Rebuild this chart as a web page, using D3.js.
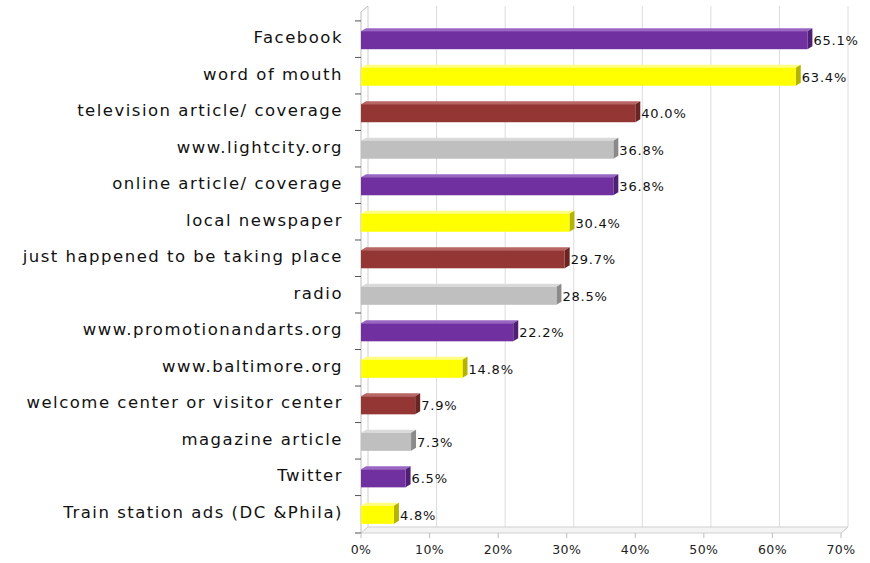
<!DOCTYPE html>
<html><head><meta charset="utf-8">
<script src="https://cdn.jsdelivr.net/npm/d3@7"></script>
<style>body{margin:0;background:#fff}svg{display:block}</style>
</head><body>
<script>
const categories = ["Facebook","word of mouth","television article/ coverage","www.lightcity.org","online article/ coverage","local newspaper","just happened to be taking place","radio","www.promotionandarts.org","www.baltimore.org","welcome center or visitor center","magazine article","Twitter","Train station ads (DC &Phila)"];
const values = [65.1,63.4,40.0,36.8,36.8,30.4,29.7,28.5,22.2,14.8,7.9,7.3,6.5,4.8];
const colors = ["#7030A0","#FFFF00","#943634","#BFBFBF"];
const sideColors = ["#4e1f73","#b3b300","#6a2422","#8a8a8a"];
const topColors = ["#9a66c4","#ffff80","#b86664","#dadada"];
const xTicks = [0,10,20,30,40,50,60,70];

const W=870,H=563;
const svg=d3.select("body").append("svg").attr("width",W).attr("height",H);
const x0=361, x1=841, yTop=20, yBot=533;
const dx=7, dy=-6; // back wall offset
const x=d3.scaleLinear().domain([0,70]).range([x0,x1]);
const y=d3.scaleBand().domain(categories).range([yTop,yBot]).paddingInner(0.45).paddingOuter(0.25);

const g=svg.append("g");
g.selectAll("line.grid").data(xTicks).join("line")
 .attr("x1",d=>x(d)+dx).attr("x2",d=>x(d)+dx)
 .attr("y1",yTop-8+dy).attr("y2",yBot+dy)
 .attr("stroke","#dcdcdc").attr("stroke-width",1);
svg.append("path").attr("d",`M${x0},${yBot}L${x1},${yBot}L${x1+dx},${yBot+dy}L${x0+dx},${yBot+dy}Z`)
 .attr("fill","#f4f4f4").attr("stroke","#d0d0d0");
g.selectAll("line.fl").data(xTicks).join("line")
 .attr("x1",d=>x(d)).attr("x2",d=>x(d)+dx).attr("y1",yBot).attr("y2",yBot+dy)
 .attr("stroke","#d0d0d0");
svg.append("line").attr("x1",x0).attr("x2",x0).attr("y1",yTop-8).attr("y2",yBot).attr("stroke","#bdbdbd");
svg.append("line").attr("x1",x0+dx).attr("x2",x0+dx).attr("y1",yTop-8+dy).attr("y2",yBot+dy).attr("stroke","#e0e0e0");
svg.append("line").attr("x1",x0).attr("x2",x0+dx).attr("y1",yTop-8).attr("y2",yTop-8+dy).attr("stroke","#bdbdbd");

const bounds=categories.map(c=>y(c)-y.step()*y.paddingInner()/2).concat([yBot]);
svg.selectAll("line.yt").data(bounds).join("line")
 .attr("x1",x0-6).attr("x2",x0).attr("y1",d=>d).attr("y2",d=>d).attr("stroke","#555");
svg.selectAll("line.xt").data(xTicks).join("line")
 .attr("x1",d=>x(d)).attr("x2",d=>x(d)).attr("y1",yBot).attr("y2",yBot+5).attr("stroke","#bdbdbd");
svg.selectAll("text.xl").data(xTicks).join("text")
 .attr("x",d=>x(d)).attr("y",yBot+21).attr("text-anchor","middle")
 .attr("font-family","DejaVu Sans").attr("font-size",12.5).attr("letter-spacing",0.4).attr("fill","#222")
 .text(d=>d+"%");

const bd=5, bdy=-3;
const bars=svg.selectAll("g.bar").data(categories).join("g");
bars.each(function(c,i){
  const gg=d3.select(this), v=values[i], bx=x(0), bw=x(v)-x(0), by=y(c)+2, bh=y.bandwidth()-2;
  gg.append("path").attr("d",`M${bx},${by}L${bx+bd},${by+bdy}L${bx+bw+bd},${by+bdy}L${bx+bw},${by}Z`).attr("fill",topColors[i%4]);
  gg.append("path").attr("d",`M${bx+bw},${by}L${bx+bw+bd},${by+bdy}L${bx+bw+bd},${by+bh+bdy}L${bx+bw},${by+bh}Z`).attr("fill",sideColors[i%4]);
  gg.append("rect").attr("x",bx).attr("y",by).attr("width",bw).attr("height",bh).attr("fill",colors[i%4]);
  gg.append("text").attr("x",bx+bw+bd+1).attr("y",by+bh/2+5).attr("font-family","DejaVu Sans").attr("font-size",13).attr("letter-spacing",0.8).attr("fill","#111")
   .text(v.toFixed(1)+"%");
});
svg.selectAll("text.cl").data(categories).join("text")
 .attr("x",343).attr("y",c=>y(c)+y.bandwidth()/2+4).attr("text-anchor","end")
 .attr("font-family","DejaVu Sans").attr("font-size",16.5).attr("letter-spacing",1.5).attr("fill","#111")
 .text(c=>c);
</script>
</body></html>
